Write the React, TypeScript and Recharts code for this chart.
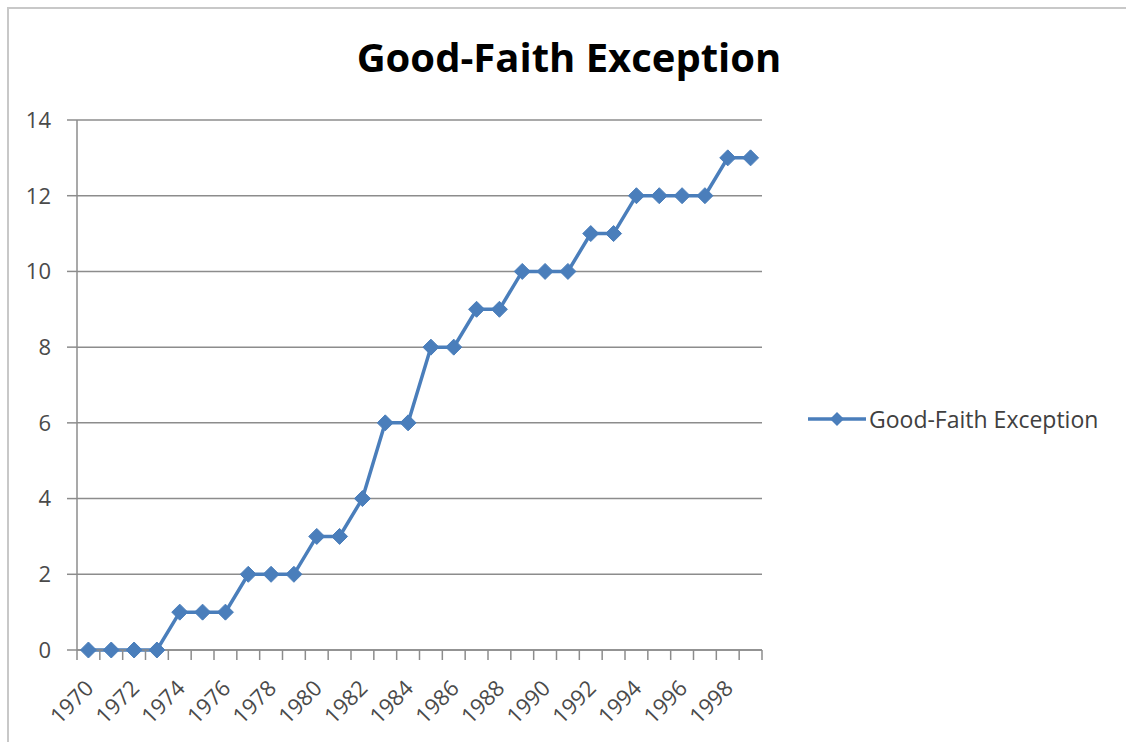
import React from "react";
import { LineChart, Line, XAxis, YAxis, CartesianGrid, Legend } from "recharts";

const years = [1970, 1971, 1972, 1973, 1974, 1975, 1976, 1977, 1978, 1979, 1980, 1981, 1982, 1983, 1984, 1985, 1986, 1987, 1988, 1989, 1990, 1991, 1992, 1993, 1994, 1995, 1996, 1997, 1998, 1999];
const cases = [0, 0, 0, 0, 1, 1, 1, 2, 2, 2, 3, 3, 4, 6, 6, 8, 8, 9, 9, 10, 10, 10, 11, 11, 12, 12, 12, 12, 13, 13];
const labelYears = [1970, 1972, 1974, 1976, 1978, 1980, 1982, 1984, 1986, 1988, 1990, 1992, 1994, 1996, 1998];
const yTicks = [0, 2, 4, 6, 8, 10, 12, 14];
const seriesName = "Good-Faith Exception";
const title = "Good-Faith Exception";

const data = years.map((y, i) => ({ year: y, value: cases[i] }));
const boundaryTicks = [...years.map((y) => y - 0.5), years[years.length - 1] + 0.5];
const xDomain = [boundaryTicks[0], boundaryTicks[boundaryTicks.length - 1]];

const BLUE = "#4A7EBB";
const GRID = "#8C8C8C";
const TEXT = "#4A4A4A";
const FONT = "'Open Sans', sans-serif";

const Diamond = (props: any) => {
  const { cx, cy } = props;
  if (cx == null || cy == null) return null;
  const r = 8;
  return (
    <polygon
      points={`${cx},${cy - r} ${cx + r},${cy} ${cx},${cy + r} ${cx - r},${cy}`}
      fill={BLUE}
      stroke={BLUE}
      strokeWidth={1}
    />
  );
};

const EmptyTick = () => <g />;

const YearTick = (props: any) => {
  const { x, y, payload } = props;
  return (
    <text
      transform={`translate(${x - 7},${y + 16}) rotate(-45)`}
      textAnchor="end"
      dominantBaseline="hanging"
      fontFamily={FONT}
      fontSize={22}
      fill={TEXT}
    >
      {payload.value}
    </text>
  );
};

const LegendContent = () => (
  <div style={{ display: "flex", alignItems: "center", fontFamily: FONT, fontSize: 23, color: "#404040", whiteSpace: "nowrap" }}>
    <svg width={62} height={20}>
      <line x1={2} y1={10} x2={60} y2={10} stroke={BLUE} strokeWidth={3.5} />
      <polygon points="31,3 38,10 31,17 24,10" fill={BLUE} />
    </svg>
    <span style={{ marginLeft: 1 }}>{seriesName}</span>
  </div>
);

export default function App() {
  return (
    <div style={{ position: "absolute", left: 0, top: 0, width: 1126, height: 742, background: "#fff", overflow: "hidden" }}>
      <div style={{ position: "absolute", left: 7, top: 7, width: 1130, height: 750, borderTop: "2px solid #C8C8C8", borderLeft: "2px solid #C8C8C8" }} />
      <div
        style={{
          position: "absolute",
          left: 6,
          top: 33,
          width: 1126,
          textAlign: "center",
          fontFamily: FONT,
          fontWeight: 700,
          fontSize: 40,
          lineHeight: "48px",
          color: "#000",
        }}
      >
        {title}
      </div>
      <div style={{ position: "absolute", left: 0, top: 0 }}>
        <LineChart width={1126} height={742} data={data} margin={{ top: 120, right: 364, bottom: 0, left: 17 }}>
          <CartesianGrid horizontal vertical={false} stroke={GRID} strokeWidth={1.5} />
          <XAxis
            xAxisId="bounds"
            dataKey="year"
            type="number"
            domain={xDomain}
            ticks={boundaryTicks}
            interval={0}
            tick={<EmptyTick />}
            tickSize={10}
            tickLine={{ stroke: GRID, strokeWidth: 1.5 }}
            axisLine={{ stroke: GRID, strokeWidth: 1.5 }}
            height={10}
            allowDataOverflow
          />
          <XAxis
            xAxisId="labels"
            dataKey="year"
            type="number"
            domain={xDomain}
            ticks={labelYears}
            interval={0}
            tick={<YearTick />}
            tickSize={0}
            tickMargin={0}
            tickLine={false}
            axisLine={false}
            height={82}
            allowDataOverflow
          />
          <YAxis
            domain={[0, 14]}
            ticks={yTicks}
            interval={0}
            width={60}
            tickSize={10}
            tickMargin={16}
            tick={{ fontFamily: FONT, fontSize: 22, fill: TEXT }}
            tickLine={{ stroke: GRID, strokeWidth: 1.5 }}
            axisLine={{ stroke: GRID, strokeWidth: 1.5 }}
          />
          <Legend
            verticalAlign="middle"
            align="center"
            layout="horizontal"
            content={<LegendContent />}
            wrapperStyle={{ position: "absolute", left: 806, top: 403, width: 320 }}
          />
          <Line
            xAxisId="bounds"
            type="linear"
            dataKey="value"
            name={seriesName}
            stroke={BLUE}
            strokeWidth={3.5}
            dot={<Diamond />}
            activeDot={false}
            isAnimationActive={false}
          />
        </LineChart>
      </div>
    </div>
  );
}
